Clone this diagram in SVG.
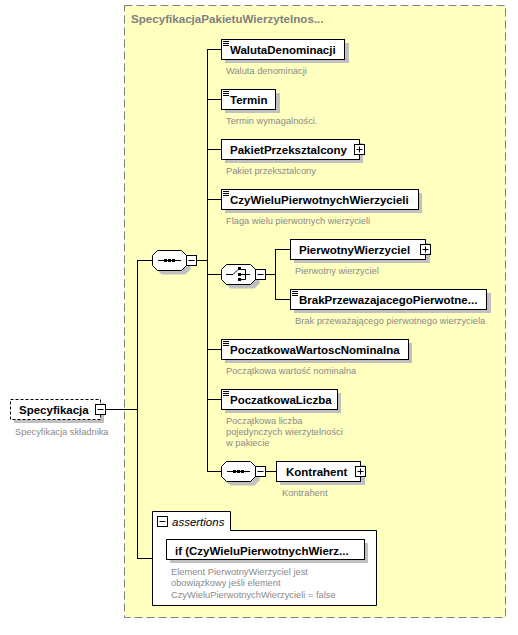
<svg xmlns="http://www.w3.org/2000/svg" width="518" height="635" viewBox="0 0 518 635">
<style>
.nm{font-family:"Liberation Sans",Arial,sans-serif;font-weight:bold;font-size:11.5px;fill:#000}
.ds{font-family:"Liberation Sans",Arial,sans-serif;font-size:9.3px;fill:#8a8a8a}
.box{fill:#fff;stroke:#000;stroke-width:1}
.sh{fill:#c0c0c0}
.ln{stroke:#000;stroke-width:1;fill:none}
.pm{fill:#fff;stroke:#000;stroke-width:1}
</style>
<defs>
<g id="minus"><rect class="pm" x="0.5" y="0.5" width="10" height="10"/><path class="ln" d="M2.5,5.5H8.5"/></g>
<g id="plus"><rect class="pm" x="0.5" y="0.5" width="10" height="10"/><path class="ln" d="M2.5,5.5H8.5M5.5,2.5V8.5"/></g>
<g id="ico"><path class="ln" d="M2,2.5H8M2,4.5H8M2,6.5H8"/></g>
<path id="oct" d="M5.5,0.5H29.5L34.5,5.5V15.5L29.5,20.5H5.5L0.5,15.5V5.5Z"/>
</defs>
<rect x="124.5" y="5.5" width="381" height="612" fill="#ffffc0" stroke="#808080" stroke-dasharray="8,4"/>
<text x="131" y="23" font-family="Liberation Sans,Arial,sans-serif" font-weight="bold" font-size="11.6" fill="#808080">SpecyfikacjaPakietuWierzytelnos...</text>
<g id="connectors">
<path class="ln" d="M105,409.5H137.5M137.5,260V559M137,260.5H152M137,558.5H152"/>
<path class="ln" d="M196,260.5H207.5M207.5,49V471.5M207,49.5H221M207,99.5H221M207,149.5H221M207,199.5H221M207,274.5H221M207,349.5H221M207,399.5H221M207,471.5H221"/>
<path class="ln" d="M266,274.5H275.5M275.5,249V299M275,249.5H290M275,299.5H290"/>
<path class="ln" d="M266,471.5H276"/>
</g>
<g id="Specyfikacja">
<rect class="sh" x="14" y="403" width="90" height="20"/>
<rect x="10.5" y="399.5" width="90" height="20" fill="#fff" stroke="#000" stroke-dasharray="3,2"/>
<text class="nm" x="19" y="414">Specyfikacja</text>
<use href="#minus" x="95" y="404"/>
<text class="ds" x="15" y="435">Specyfikacja składnika</text>
</g>
<g id="seq1">
<use href="#oct" x="156" y="254" class="sh"/>
<use href="#oct" x="152" y="250" fill="#fff" stroke="#000"/>
<path class="ln" d="M158,260.5H181"/>
<rect x="164" y="259" width="3" height="3"/><rect x="168" y="259" width="3" height="3"/><rect x="172" y="259" width="3" height="3"/>
<use href="#minus" x="186" y="255"/>
</g>
<g id="WalutaDenominacji">
<rect class="sh" x="225" y="43" width="124" height="20"/>
<rect class="box" x="221.5" y="39.5" width="123" height="20"/>
<use href="#ico" x="221" y="39"/>
<text class="nm" x="230" y="54">WalutaDenominacji</text>
<text class="ds" x="226" y="74">Waluta denominacji</text>
</g>
<g id="Termin">
<rect class="sh" x="225" y="93" width="55" height="20"/>
<rect class="box" x="221.5" y="89.5" width="54" height="20"/>
<use href="#ico" x="221" y="89"/>
<text class="nm" x="230" y="104">Termin</text>
<text class="ds" x="226" y="124">Termin wymagalności.</text>
</g>
<g id="PakietPrzeksztalcony">
<rect class="sh" x="225" y="143" width="138" height="20"/>
<rect class="box" x="221.5" y="139.5" width="138" height="20"/>
<text class="nm" x="230" y="154">PakietPrzeksztalcony</text>
<use href="#plus" x="354" y="144"/>
<text class="ds" x="226" y="174">Pakiet przeksztalcony</text>
</g>
<g id="CzyWieluPierwotnychWierzycieli">
<rect class="sh" x="225" y="193" width="197" height="20"/>
<rect class="box" x="221.5" y="189.5" width="197" height="20"/>
<use href="#ico" x="221" y="189"/>
<text class="nm" x="230" y="204">CzyWieluPierwotnychWierzycieli</text>
<text class="ds" x="226" y="224">Flaga wielu pierwotnych wierzycieli</text>
</g>
<g id="choice">
<use href="#oct" x="225" y="268" class="sh"/>
<use href="#oct" x="221" y="264" fill="#fff" stroke="#000"/>
<path class="ln" d="M226,274.5H233L238,269.5M241,269.5H245.5V279.5H241M241,274.5H250"/>
<rect x="238" y="267" width="3" height="3"/><rect x="238" y="273" width="3" height="3"/><rect x="238" y="278" width="3" height="3"/>
<use href="#minus" x="255" y="269"/>
</g>
<g id="PierwotnyWierzyciel">
<rect class="sh" x="294" y="243" width="136" height="20"/>
<rect class="box" x="290.5" y="239.5" width="135" height="20"/>
<text class="nm" x="299" y="254">PierwotnyWierzyciel</text>
<use href="#plus" x="420" y="244"/>
<text class="ds" x="295" y="274">Pierwotny wierzyciel</text>
</g>
<g id="BrakPrzewazajacegoPierwotnego">
<rect class="sh" x="294" y="293" width="197" height="20"/>
<rect class="box" x="290.5" y="289.5" width="196" height="20"/>
<use href="#ico" x="290" y="289"/>
<text class="nm" x="299" y="304">BrakPrzewazajacegoPierwotne...</text>
<text class="ds" x="295" y="324">Brak przeważającego pierwotnego wierzyciela</text>
</g>
<g id="PoczatkowaWartoscNominalna">
<rect class="sh" x="225" y="343" width="187" height="20"/>
<rect class="box" x="221.5" y="339.5" width="187" height="20"/>
<use href="#ico" x="221" y="339"/>
<text class="nm" x="230" y="354">PoczatkowaWartoscNominalna</text>
<text class="ds" x="226" y="374">Początkowa wartość nominalna</text>
</g>
<g id="PoczatkowaLiczba">
<rect class="sh" x="225" y="393" width="116" height="20"/>
<rect class="box" x="221.5" y="389.5" width="116" height="20"/>
<use href="#ico" x="221" y="389"/>
<text class="nm" x="230" y="404">PoczatkowaLiczba</text>
<text class="ds" x="226" y="424">Początkowa liczba</text>
<text class="ds" x="226" y="435">pojedynczych wierzytelności</text>
<text class="ds" x="226" y="446">w pakiecie</text>
</g>
<g id="seq2">
<use href="#oct" x="225" y="465" class="sh"/>
<use href="#oct" x="221" y="461" fill="#fff" stroke="#000"/>
<path class="ln" d="M227,471.5H250"/>
<rect x="233" y="470" width="3" height="3"/><rect x="237" y="470" width="3" height="3"/><rect x="241" y="470" width="3" height="3"/>
<use href="#minus" x="255" y="466"/>
</g>
<g id="Kontrahent">
<rect class="sh" x="280" y="465" width="85" height="20"/>
<rect class="box" x="276.5" y="461.5" width="84" height="20"/>
<text class="nm" x="286" y="476">Kontrahent</text>
<use href="#plus" x="355" y="466"/>
<text class="ds" x="282" y="496">Kontrahent</text>
</g>
<g id="assertions">
<path d="M152.5,605.5V511.5H230.5V530.5H376.5V605.5Z" fill="#fff" stroke="#000"/>
<use href="#minus" x="157" y="516"/>
<text x="172" y="526" font-family="Liberation Sans,Arial,sans-serif" font-style="italic" font-size="11.5" fill="#000">assertions</text>
<rect class="sh" x="170" y="543" width="198" height="20"/>
<rect class="box" x="166.5" y="539.5" width="198" height="20"/>
<text class="nm" x="175" y="555" font-size="12">if (CzyWieluPierwotnychWierz...</text>
<text class="ds" x="171" y="575">Element PierwotnyWierzyciel jest</text>
<text class="ds" x="171" y="586">obowiązkowy jeśli element</text>
<text class="ds" x="171" y="598">CzyWieluPierwotnychWierzycieli = false</text>
</g>
</svg>
